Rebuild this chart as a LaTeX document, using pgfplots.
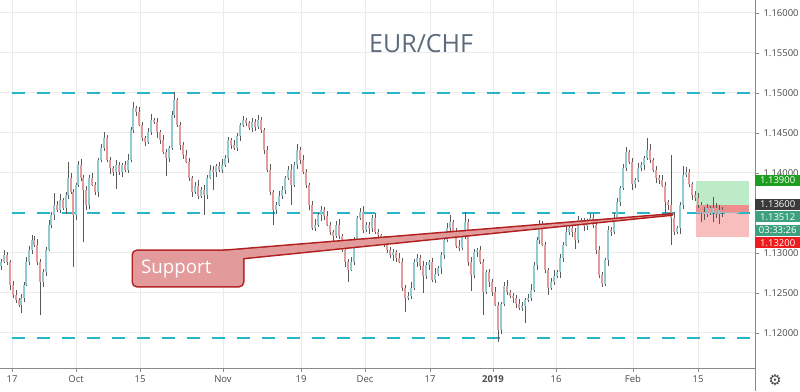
\documentclass[border=0pt]{standalone}
\usepackage{pgfplots}
\usepackage{pgfplotstable}
\pgfplotsset{compat=1.18}
\usepackage{fontspec}
\setmainfont{Open Sans}
\newfontfamily\dejavu{DejaVu Sans}
\definecolor{gridc}{HTML}{EBEBEB}
\definecolor{axisc}{HTML}{8A8A8A}
\definecolor{tickc}{HTML}{4A4A4A}
\definecolor{lvl}{HTML}{26B5C9}
\definecolor{upc}{HTML}{8FCBD0}
\definecolor{dnc}{HTML}{E49B9B}
\definecolor{wickc}{HTML}{5A5A5A}
\definecolor{supfill}{HTML}{E39A9A}
\definecolor{supline}{HTML}{B01E1E}
\definecolor{titlec}{HTML}{5B6B7C}
\definecolor{tpgreen}{HTML}{BDEBC8}
\definecolor{tpred}{HTML}{F8BDBD}
\definecolor{tpred2}{HTML}{F08E8E}
\definecolor{taggreen}{HTML}{1E9E1E}
\definecolor{tagdark}{HTML}{3A3A3A}
\definecolor{tagteal}{HTML}{3DA07E}
\definecolor{tagred}{HTML}{EE1C1C}
\pgfplotstableread{
x o h l c
1 1.1283 1.1292 1.1278 1.1289
4 1.1289 1.1303 1.1287 1.1297
7 1.1297 1.1301 1.1285 1.1289
10 1.1289 1.1291 1.1254 1.1260
13 1.1260 1.1265 1.1244 1.1247
16 1.1247 1.1254 1.1237 1.1241
19 1.1241 1.1244 1.1232 1.1235
21 1.1235 1.1248 1.1225 1.1244
24 1.1244 1.1263 1.1239 1.1260
26 1.1260 1.1295 1.1258 1.1289
29 1.1289 1.1308 1.1285 1.1304
32 1.1304 1.1322 1.1298 1.1316
34 1.1316 1.1321 1.1307 1.1310
37 1.1310 1.1317 1.1285 1.1289
40 1.1289 1.1292 1.1222 1.1264
43 1.1264 1.1280 1.1257 1.1276
46 1.1276 1.1307 1.1271 1.1304
49 1.1304 1.1341 1.1302 1.1335
51 1.1335 1.1351 1.1331 1.1347
54 1.1347 1.1375 1.1341 1.1360
57 1.1360 1.1365 1.1351 1.1354
60 1.1354 1.1373 1.1350 1.1366
63 1.1366 1.1369 1.1353 1.1356
66 1.1356 1.1376 1.1349 1.1372
68 1.1372 1.1413 1.1367 1.1394
71 1.1394 1.1400 1.1374 1.1376
73 1.1376 1.1380 1.1282 1.1347
76 1.1347 1.1387 1.1341 1.1385
78 1.1385 1.1415 1.1382 1.1410
81 1.1410 1.1417 1.1390 1.1394
83 1.1394 1.1397 1.1313 1.1379
86 1.1379 1.1383 1.1353 1.1360
89 1.1360 1.1397 1.1355 1.1394
92 1.1394 1.1400 1.1383 1.1385
95 1.1385 1.1389 1.1372 1.1376
98 1.1376 1.1418 1.1370 1.1416
101 1.1416 1.1436 1.1413 1.1431
104 1.1431 1.1451 1.1427 1.1444
107 1.1444 1.1447 1.1413 1.1416
110 1.1416 1.1420 1.1399 1.1406
113 1.1406 1.1409 1.1396 1.1401
116 1.1401 1.1416 1.1380 1.1410
119 1.1410 1.1414 1.1397 1.1401
122 1.1401 1.1412 1.1395 1.1410
125 1.1410 1.1415 1.1401 1.1404
128 1.1404 1.1423 1.1400 1.1416
131 1.1416 1.1457 1.1413 1.1454
133 1.1454 1.1489 1.1450 1.1481
136 1.1481 1.1484 1.1471 1.1476
139 1.1476 1.1482 1.1458 1.1460
142 1.1460 1.1464 1.1440 1.1444
145 1.1444 1.1446 1.1433 1.1439
148 1.1439 1.1456 1.1436 1.1451
151 1.1451 1.1473 1.1447 1.1466
154 1.1466 1.1469 1.1461 1.1464
157 1.1464 1.1468 1.1444 1.1451
160 1.1451 1.1454 1.1436 1.1441
163 1.1441 1.1447 1.1424 1.1426
166 1.1426 1.1430 1.1396 1.1419
169 1.1419 1.1433 1.1413 1.1431
172 1.1431 1.1477 1.1428 1.1472
174 1.1472 1.1501 1.1468 1.1491
177 1.1491 1.1494 1.1457 1.1460
180 1.1460 1.1464 1.1428 1.1435
183 1.1435 1.1438 1.1417 1.1422
186 1.1422 1.1428 1.1412 1.1414
189 1.1414 1.1418 1.1390 1.1394
192 1.1394 1.1396 1.1370 1.1376
195 1.1376 1.1389 1.1373 1.1384
198 1.1384 1.1391 1.1367 1.1371
201 1.1371 1.1382 1.1368 1.1379
204 1.1379 1.1385 1.1347 1.1372
207 1.1372 1.1397 1.1367 1.1394
210 1.1394 1.1410 1.1392 1.1404
213 1.1404 1.1408 1.1378 1.1401
216 1.1401 1.1411 1.1395 1.1409
219 1.1409 1.1414 1.1401 1.1404
222 1.1404 1.1417 1.1400 1.1410
225 1.1410 1.1422 1.1407 1.1419
228 1.1419 1.1445 1.1412 1.1441
231 1.1441 1.1444 1.1430 1.1435
234 1.1435 1.1441 1.1429 1.1431
237 1.1431 1.1450 1.1427 1.1446
240 1.1446 1.1462 1.1440 1.1460
243 1.1460 1.1471 1.1457 1.1466
246 1.1466 1.1469 1.1458 1.1462
249 1.1462 1.1465 1.1453 1.1456
252 1.1456 1.1468 1.1451 1.1464
255 1.1464 1.1467 1.1452 1.1457
258 1.1457 1.1472 1.1455 1.1466
261 1.1466 1.1470 1.1450 1.1454
264 1.1454 1.1456 1.1423 1.1429
267 1.1429 1.1434 1.1401 1.1404
270 1.1404 1.1411 1.1372 1.1376
273 1.1376 1.1379 1.1335 1.1354
276 1.1354 1.1363 1.1349 1.1360
279 1.1360 1.1377 1.1358 1.1371
282 1.1371 1.1383 1.1367 1.1379
285 1.1379 1.1396 1.1373 1.1394
288 1.1394 1.1409 1.1391 1.1404
291 1.1404 1.1411 1.1360 1.1385
294 1.1385 1.1413 1.1382 1.1410
297 1.1410 1.1436 1.1405 1.1429
300 1.1429 1.1432 1.1411 1.1416
303 1.1416 1.1422 1.1399 1.1401
306 1.1401 1.1405 1.1381 1.1385
309 1.1385 1.1387 1.1354 1.1360
312 1.1360 1.1365 1.1328 1.1331
315 1.1331 1.1342 1.1327 1.1335
318 1.1335 1.1350 1.1332 1.1347
321 1.1347 1.1358 1.1340 1.1354
324 1.1354 1.1357 1.1341 1.1346
327 1.1346 1.1352 1.1333 1.1335
330 1.1335 1.1339 1.1322 1.1326
333 1.1326 1.1328 1.1315 1.1321
336 1.1321 1.1340 1.1318 1.1335
339 1.1335 1.1342 1.1317 1.1321
342 1.1321 1.1324 1.1301 1.1304
345 1.1304 1.1308 1.1282 1.1289
348 1.1289 1.1292 1.1264 1.1279
351 1.1279 1.1295 1.1277 1.1289
354 1.1289 1.1320 1.1285 1.1316
357 1.1316 1.1346 1.1310 1.1344
360 1.1344 1.1356 1.1341 1.1351
363 1.1351 1.1358 1.1325 1.1329
366 1.1329 1.1338 1.1326 1.1335
369 1.1335 1.1339 1.1324 1.1331
372 1.1331 1.1347 1.1326 1.1344
375 1.1344 1.1350 1.1324 1.1326
378 1.1326 1.1330 1.1318 1.1322
381 1.1322 1.1324 1.1310 1.1316
384 1.1316 1.1321 1.1307 1.1310
387 1.1310 1.1317 1.1300 1.1304
390 1.1304 1.1307 1.1294 1.1297
393 1.1297 1.1305 1.1290 1.1301
396 1.1301 1.1304 1.1289 1.1294
399 1.1294 1.1300 1.1287 1.1289
402 1.1289 1.1293 1.1252 1.1256
405 1.1256 1.1260 1.1226 1.1244
408 1.1244 1.1251 1.1241 1.1246
411 1.1246 1.1263 1.1242 1.1256
414 1.1256 1.1292 1.1253 1.1289
417 1.1289 1.1298 1.1282 1.1294
420 1.1294 1.1297 1.1279 1.1284
423 1.1284 1.1290 1.1250 1.1271
426 1.1271 1.1289 1.1267 1.1285
429 1.1285 1.1291 1.1279 1.1289
432 1.1289 1.1294 1.1263 1.1266
435 1.1266 1.1281 1.1262 1.1274
438 1.1274 1.1284 1.1271 1.1281
441 1.1281 1.1301 1.1274 1.1297
444 1.1297 1.1319 1.1292 1.1316
447 1.1316 1.1337 1.1314 1.1331
450 1.1331 1.1347 1.1327 1.1339
453 1.1339 1.1341 1.1320 1.1326
456 1.1326 1.1331 1.1306 1.1309
459 1.1309 1.1316 1.1302 1.1306
462 1.1306 1.1324 1.1303 1.1321
465 1.1321 1.1351 1.1317 1.1339
468 1.1339 1.1342 1.1284 1.1289
471 1.1289 1.1295 1.1252 1.1272
474 1.1272 1.1305 1.1268 1.1301
477 1.1301 1.1306 1.1295 1.1304
480 1.1304 1.1309 1.1286 1.1289
483 1.1289 1.1292 1.1222 1.1251
486 1.1251 1.1279 1.1248 1.1276
489 1.1276 1.1280 1.1257 1.1264
492 1.1264 1.1267 1.1246 1.1251
495 1.1251 1.1257 1.1233 1.1235
498 1.1235 1.1238 1.1189 1.1204
501 1.1204 1.1238 1.1198 1.1236
504 1.1236 1.1264 1.1233 1.1259
507 1.1259 1.1266 1.1247 1.1251
510 1.1251 1.1254 1.1243 1.1246
513 1.1246 1.1250 1.1237 1.1244
516 1.1244 1.1247 1.1231 1.1236
519 1.1236 1.1242 1.1229 1.1231
522 1.1231 1.1238 1.1227 1.1234
525 1.1234 1.1244 1.1212 1.1241
528 1.1241 1.1249 1.1238 1.1244
531 1.1244 1.1261 1.1240 1.1254
534 1.1254 1.1288 1.1251 1.1285
537 1.1285 1.1320 1.1278 1.1316
539 1.1316 1.1341 1.1311 1.1334
542 1.1334 1.1340 1.1308 1.1310
545 1.1310 1.1314 1.1275 1.1279
548 1.1279 1.1281 1.1247 1.1256
551 1.1256 1.1269 1.1253 1.1264
554 1.1264 1.1278 1.1260 1.1271
557 1.1271 1.1279 1.1268 1.1276
560 1.1276 1.1298 1.1269 1.1294
563 1.1294 1.1313 1.1289 1.1310
566 1.1310 1.1332 1.1308 1.1326
569 1.1326 1.1335 1.1322 1.1331
572 1.1331 1.1333 1.1320 1.1326
575 1.1326 1.1331 1.1305 1.1316
578 1.1316 1.1346 1.1312 1.1341
581 1.1341 1.1344 1.1336 1.1339
584 1.1339 1.1343 1.1327 1.1334
587 1.1334 1.1342 1.1329 1.1339
590 1.1339 1.1348 1.1337 1.1344
593 1.1344 1.1348 1.1331 1.1335
596 1.1335 1.1337 1.1298 1.1304
599 1.1304 1.1309 1.1269 1.1272
602 1.1272 1.1276 1.1257 1.1261
605 1.1261 1.1294 1.1258 1.1291
608 1.1291 1.1333 1.1284 1.1329
611 1.1329 1.1332 1.1321 1.1326
614 1.1326 1.1350 1.1324 1.1344
617 1.1344 1.1368 1.1340 1.1364
620 1.1364 1.1383 1.1358 1.1381
623 1.1381 1.1411 1.1378 1.1406
626 1.1406 1.1432 1.1402 1.1426
629 1.1426 1.1429 1.1411 1.1414
632 1.1414 1.1418 1.1379 1.1386
635 1.1386 1.1394 1.1381 1.1391
638 1.1391 1.1412 1.1389 1.1406
641 1.1406 1.1414 1.1402 1.1410
644 1.1410 1.1421 1.1404 1.1419
647 1.1419 1.1444 1.1416 1.1429
650 1.1429 1.1436 1.1412 1.1416
653 1.1416 1.1419 1.1401 1.1404
656 1.1404 1.1408 1.1387 1.1394
659 1.1394 1.1397 1.1386 1.1391
662 1.1391 1.1397 1.1382 1.1384
665 1.1384 1.1388 1.1350 1.1364
668 1.1364 1.1366 1.1354 1.1360
671 1.1360 1.1422 1.1310 1.1344
674 1.1344 1.1351 1.1322 1.1326
677 1.1326 1.1334 1.1323 1.1331
680 1.1331 1.1364 1.1324 1.1360
683 1.1360 1.1409 1.1355 1.1397
686 1.1397 1.1407 1.1395 1.1401
689 1.1401 1.1405 1.1382 1.1386
692 1.1386 1.1388 1.1366 1.1372
695 1.1372 1.1377 1.1365 1.1368
698 1.1368 1.1375 1.1356 1.1360
701 1.1360 1.1363 1.1338 1.1351
704 1.1351 1.1357 1.1341 1.1348
707 1.1348 1.1361 1.1345 1.1356
710 1.1356 1.1359 1.1347 1.1351
713 1.1351 1.1370 1.1339 1.1356
716 1.1356 1.1362 1.1344 1.1348
719 1.1348 1.1360 1.1336 1.1354
722 1.1354 1.1357 1.1345 1.1351
}\candles
\begin{document}
\begin{tikzpicture}
\useasboundingbox (0pt,0pt) rectangle (800pt,391pt);
\begin{axis}[
  at={(0pt,23pt)}, anchor=south west,
  scale only axis, width=755pt, height=368pt,
  xmin=0, xmax=755, ymin=1.1156, ymax=1.1616,
  axis x line*=bottom, axis y line*=right,
  axis line style={draw=axisc, line width=0.8pt},
  clip=false,
  grid=major, grid style={draw=gridc, line width=0.8pt},
  tick align=outside, major tick length=4pt,
  tick style={draw=axisc, line width=0.6pt},
  xtick={12,76,140,223,301,365,430,493,556,633,698},
  xticklabels={17,Oct,15,Nov,19,Dec,17,\textbf{2019},16,Feb,15},
  ytick={1.12,1.125,1.13,1.14,1.145,1.15,1.155,1.16},
  yticklabel pos=right,
  tick label style={font=\fontsize{9.5}{11}\selectfont, text=tickc},
  /pgf/number format/fixed,
  /pgf/number format/fixed zerofill,
  /pgf/number format/precision=5,
  /pgf/number format/assume math mode=true,
  yticklabel style={xshift=1pt},
]
% position tool
\fill[tpgreen] (696,1.136) rectangle (749,1.139);
\fill[tpred] (696,1.132) rectangle (749,1.136);
\fill[tpred2] (696,1.1351) rectangle (749,1.136);
% horizontal levels
\addplot[lvl, line width=1.8pt, dash pattern=on 13pt off 12pt] coordinates {(12,1.15) (755,1.15)};
\addplot[lvl, line width=1.8pt, dash pattern=on 13pt off 12pt] coordinates {(12,1.135) (755,1.135)};
\addplot[lvl, line width=1.8pt, dash pattern=on 13pt off 12pt] coordinates {(12,1.11935) (755,1.11935)};
% wicks
\addplot[draw=none, no markers, error bars/.cd, y dir=plus, y explicit, error mark=none,
  error bar style={draw=wickc, line width=0.6pt}]
  table[x=x, y=l, y error expr=\thisrow{h}-\thisrow{l}] {\candles};
% up bodies
\addplot[draw=none, no markers, restrict expr to domain={\thisrow{c}-\thisrow{o}}{0:1},
  error bars/.cd, y dir=plus, y explicit, error mark=none,
  error bar style={draw=upc, line width=2.4pt, line cap=butt}]
  table[x=x, y=o, y error expr=\thisrow{c}-\thisrow{o}] {\candles};
% down bodies
\addplot[draw=none, no markers, restrict expr to domain={\thisrow{o}-\thisrow{c}}{0.00001:1},
  error bars/.cd, y dir=plus, y explicit, error mark=none,
  error bar style={draw=dnc, line width=2.4pt, line cap=butt}]
  table[x=x, y=c, y error expr=\thisrow{o}-\thisrow{c}] {\candles};
% current price line
\draw[gray!60, line width=1.2pt] (696,1.1350) -- (740,1.1350);
% support callout
\draw[supline, line width=3pt, rounded corners=4pt] (133,1.13023) rectangle (243,1.12585);
\draw[supline, line width=3pt, line join=round] (224,1.13023) -- (672,1.13479) -- (243,1.12935) -- cycle;
\fill[supfill, rounded corners=4pt] (133,1.13023) rectangle (243,1.12585);
\fill[supfill] (224,1.13023) -- (672,1.13479) -- (243,1.12935) -- cycle;
\node[anchor=base west, text=white, inner sep=0pt, font=\fontsize{18.7}{22}\selectfont] at (141,1.12744) {Support};
% title
\node[anchor=base west, text=titlec, inner sep=0pt, font=\fontsize{25}{30}\selectfont] at (369,1.15498) {EUR/CHF};
% price tags
\tikzset{tag/.style={anchor=west, text=white, minimum width=45pt, minimum height=11pt, inner sep=0pt, font=\fontsize{9.5}{10}\selectfont}}
\node[tag, fill=taggreen] at (755,1.1391) {1.13900};
\node[tag, fill=tagdark] at (755,1.1361) {1.13600};
\node[tag, fill=tagteal] at (755,1.13448) {1.13512};
\node[tag, fill=tagteal] at (755,1.13279) {03:33:26};
\node[tag, fill=tagred] at (755,1.13123) {1.13200};
% bottom right
\draw[axisc, line width=0.8pt] (755,1.1156) -- (755,1.1127);
\node[text=tickc, font=\dejavu\fontsize{15}{15}\selectfont] at (775,1.1141) {⚙};
\end{axis}
\end{tikzpicture}
\end{document}
